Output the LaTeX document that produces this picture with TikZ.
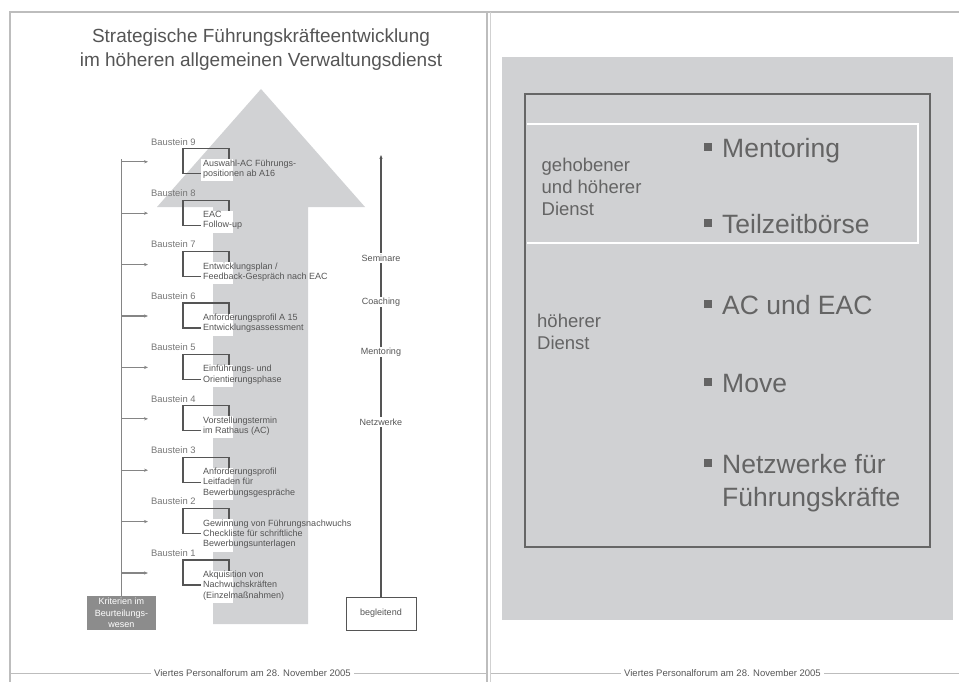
\documentclass[tikz,border=0pt]{standalone}
\usepackage{fontspec}
\setmainfont{Liberation Sans}
\usetikzlibrary{arrows.meta}
\definecolor{arrowgray}{HTML}{D1D2D4}
\definecolor{framegray}{HTML}{BDBDBD}
\definecolor{linegray}{HTML}{858585}
\definecolor{textgray}{HTML}{555555}
\definecolor{labelgray}{HTML}{767676}
\definecolor{boxgray}{HTML}{8C8C8C}
\definecolor{panelgray}{HTML}{D0D1D3}
\definecolor{bordergray}{HTML}{666666}
\definecolor{bigtext}{HTML}{646464}
\begin{document}
\begin{tikzpicture}[x=1pt,y=-1pt,
  small/.style={font=\fontsize{9}{10.3}\selectfont, text=textgray, inner sep=0pt},
  baustein/.style={font=\fontsize{9.4}{11}\selectfont, text=labelgray, inner sep=0pt},
  item/.style={small, align=left},
  bracket/.style={draw=textgray, line width=1.1pt},
  feeder/.style={draw=linegray, line width=1.1pt, -{Stealth[length=4pt,width=3.2pt]}},
  tag/.style={small, fill=white, inner sep=1.2pt},
  footer/.style={font=\fontsize{9.5}{11}\selectfont, text=textgray, inner sep=3pt},
  footline/.style={draw=framegray, line width=0.8pt},
  bigitem/.style={font=\fontsize{26.5}{33}\selectfont, text=bigtext, inner sep=0pt, align=left},
  group/.style={font=\fontsize{18.5}{22}\selectfont, text=bigtext, inner sep=0pt, align=left},
  bulletsq/.style={fill=bigtext}]
\useasboundingbox (0,0) rectangle (959,682);

% page frames
\draw[framegray, line width=2pt] (10,682) -- (10,12) -- (959,12);
\draw[framegray, line width=2pt] (487,12) -- (487,682);
\draw[framegray!70, line width=1pt] (490.5,12) -- (490.5,682);

% ---------------- left page ----------------
\node[anchor=north, align=center, inner sep=0pt, text=textgray,
      font=\fontsize{19}{24}\selectfont] (title) at (261,25.2)
  {\strut Strategische Führungskräfteentwicklung\\im höheren allgemeinen Verwaltungsdienst};

% large upward arrow in the background
\fill[arrowgray] (213,624) -- (213,207) -- (157,207) -- (261,89)
  -- (365,207) -- (308,207) -- (308,624) -- cycle;

% criteria box and its feeder line
\node[fill=boxgray, text=white, minimum width=69pt, minimum height=34pt,
      inner sep=0pt, align=center, font=\fontsize{9}{11.5}\selectfont]
  (krit) at (121.5,613) {Kriterien im\\Beurteilungs-\\wesen};
\coordinate (kritTop) at (121.5,159);
\draw[draw=linegray, line width=1.1pt] (krit.north) -- (kritTop);

% the nine building blocks
\foreach \k/\n/\txt in {
  9/2/{Auswahl-AC Führungs-\\positionen ab A16},
  8/2/{EAC\\Follow-up},
  7/2/{Entwicklungsplan /\\Feedback-Gespräch nach EAC},
  6/2/{Anforderungsprofil A 15\\Entwicklungsassessment},
  5/2/{Einführungs- und\\Orientierungsphase},
  4/2/{Vorstellungstermin\\im Rathaus (AC)},
  3/3/{Anforderungsprofil\\Leitfaden für\\Bewerbungsgespräche},
  2/3/{Gewinnung von Führungsnachwuchs\\Checkliste für schriftliche\\Bewerbungsunterlagen},
  1/3/{Akquisition von\\Nachwuchskräften\\(Einzelmaßnahmen)}}{
  \pgfmathsetmacro\yb{553-(\k-1)*51.4}
  \node[baustein, anchor=west] (b\k) at (151,\yb) {Baustein \k};
  \coordinate (s\k) at (121.5,\yb+20);
  \coordinate (e\k) at (148,\yb+20);
  \draw[feeder] (s\k) -- (e\k);
  \draw[bracket] (201,\yb+32) -- (183,\yb+32) -- (183,\yb+7) -- (229,\yb+7) -- (229,\yb+18);
  \fill[white] (201,\yb+17.5) rectangle (233,\yb+19+\n*10.3);
  \node[item, anchor=north west] (t\k) at (203,\yb+17) {\strut\txt};
}

% accompanying measures
\node[draw=textgray, line width=1pt, fill=white, minimum width=70pt, minimum height=33pt,
      inner sep=0pt, font=\fontsize{9}{11}\selectfont, text=textgray]
  (begl) at (381,613.5) {begleitend};
\coordinate (beglTop) at (381,155);
\draw[draw=textgray, line width=1.1pt, -{Stealth[length=4pt,width=3.2pt]}] (begl.north) -- (beglTop);
\node[tag] (sem) at (381,258) {Seminare};
\node[tag] (coa) at (381,302) {Coaching};
\node[tag] (men) at (381,352) {Mentoring};
\node[tag] (net) at (381,422) {Netzwerke};

% footer
\node[footer, anchor=base] (footL) at (252.5,676.5) {Viertes Personalforum am 28. November 2005};
\coordinate (fl1) at (10,673);
\coordinate (fl2) at (487,673);
\draw[footline] (fl1) -- (footL.west |- fl1);
\draw[footline] (footL.east |- fl2) -- (fl2);

% ---------------- right page ----------------
\fill[panelgray] (502,57) rectangle (953,620);
\draw[white, line width=2pt] (527,124) -- (918,124) -- (918,243) -- (527,243);
\draw[bordergray, line width=2pt] (525,94) rectangle (930,547);

\node[group, anchor=north west] (geh) at (541.5,155.6) {\strut gehobener\\und höherer\\Dienst};
\node[group, anchor=north west] (hoe) at (537,311.6) {\strut höherer\\Dienst};

\foreach \name/\base/\txt in {
  m1/157/{Mentoring},
  m2/233/{Teilzeitbörse},
  m3/314/{AC und EAC},
  m4/392/{Move},
  m5/473/{Netzwerke für\\Führungskräfte}}{
  \fill[bulletsq] (703.5,\base-14) rectangle (711.5,\base-6);
  \node[bigitem, anchor=north west] (\name) at (722,\base-23.1) {\strut\txt};
}

% footer
\node[footer, anchor=base] (footR) at (722.5,676.5) {Viertes Personalforum am 28. November 2005};
\coordinate (fr1) at (490.5,673);
\coordinate (fr2) at (959,673);
\draw[footline] (fr1) -- (footR.west |- fr1);
\draw[footline] (footR.east |- fr2) -- (fr2);
\end{tikzpicture}
\end{document}
